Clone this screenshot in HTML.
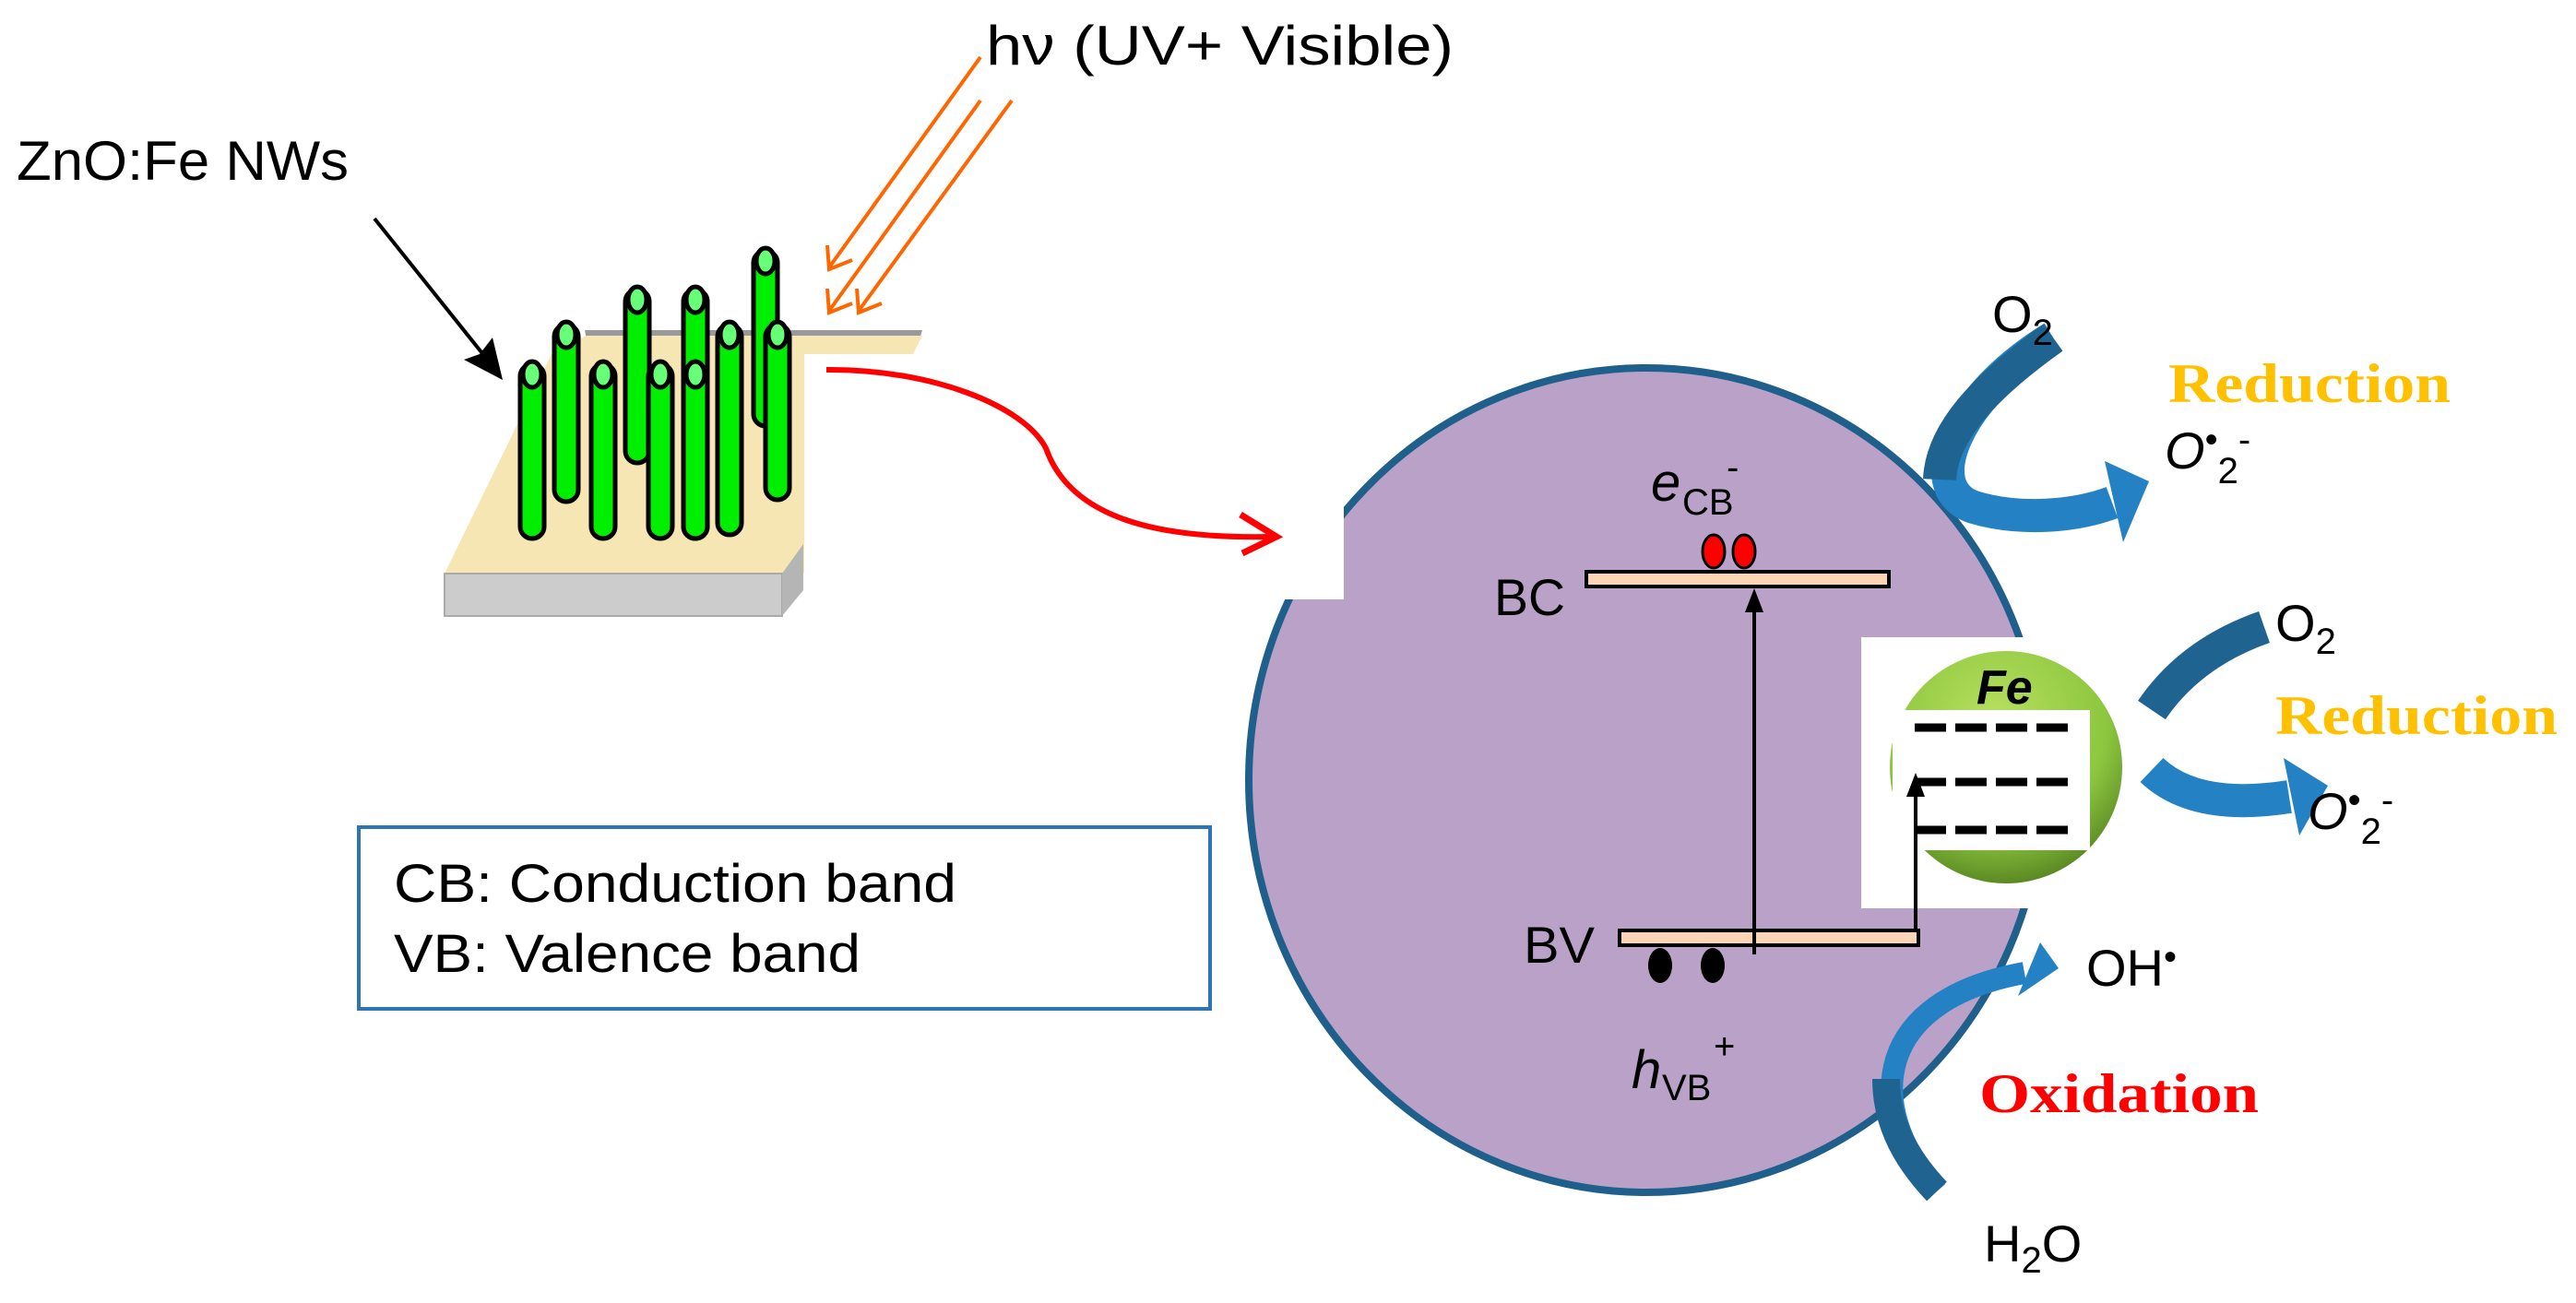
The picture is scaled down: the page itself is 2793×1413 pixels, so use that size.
<!DOCTYPE html>
<html><head><meta charset="utf-8"><style>
html,body{margin:0;padding:0;background:#fff;}
svg{display:block;}
text{font-family:"Liberation Sans","DejaVu Sans",sans-serif;}
.serif{font-family:"Liberation Serif",serif;}
</style></head><body>
<svg width="2793" height="1413" viewBox="0 0 2793 1413" xmlns="http://www.w3.org/2000/svg">
<text x="1069" y="70" font-size="60" fill="#000" textLength="507" lengthAdjust="spacingAndGlyphs">hν (UV+ Visible)</text>
<text x="18" y="195" font-size="60" fill="#000" textLength="360" lengthAdjust="spacingAndGlyphs">ZnO:Fe NWs</text>
<line x1="406" y1="237" x2="538" y2="402" stroke="#000" stroke-width="4"/>
<polygon points="545,412 503,390 520,384 534,366" fill="#000"/>
<g stroke="#ff6600" stroke-width="4" fill="none">
<line x1="1063" y1="62" x2="899" y2="290"/>
<polyline points="897,266 899,292 924,282"/>
<line x1="1063" y1="109" x2="899" y2="337"/>
<polyline points="897,313 899,339 924,329"/>
<line x1="1097" y1="109" x2="931" y2="337"/>
<polyline points="929,313 931,339 956,329"/>
</g>
<polygon points="634,358 1000,358 997,368 636,368" fill="#999"/>
<polygon points="482,622 600,380 636,364 1000,364 871,622" fill="#f5e6b3"/>
<rect x="872" y="384" width="140" height="240" fill="#fff"/>
<polygon points="482,622 848,622 848,668 482,668" fill="#cccccc" stroke="#aaa" stroke-width="2"/>
<polygon points="848,622 871,590 871,640 848,668" fill="#b5b5b5"/>
<g stroke="#000" stroke-width="5" fill="#00ee00">
<g><rect x="817" y="272" width="26" height="190" rx="13"/><ellipse cx="830" cy="283" rx="10" ry="14" fill="#66ff77"/></g>
<g><rect x="678" y="314" width="26" height="188" rx="13"/><ellipse cx="691" cy="325" rx="10" ry="14" fill="#66ff77"/></g>
<g><rect x="741" y="314" width="26" height="270" rx="13"/><ellipse cx="754" cy="325" rx="10" ry="14" fill="#66ff77"/></g>
<g><rect x="601" y="352" width="26" height="192" rx="13"/><ellipse cx="614" cy="363" rx="10" ry="14" fill="#66ff77"/></g>
<g><rect x="778" y="352" width="26" height="228" rx="13"/><ellipse cx="791" cy="363" rx="10" ry="14" fill="#66ff77"/></g>
<g><rect x="830" y="352" width="26" height="190" rx="13"/><ellipse cx="843" cy="363" rx="10" ry="14" fill="#66ff77"/></g>
<g><rect x="564" y="395" width="26" height="189" rx="13"/><ellipse cx="577" cy="406" rx="10" ry="14" fill="#66ff77"/></g>
<g><rect x="641" y="395" width="26" height="189" rx="13"/><ellipse cx="654" cy="406" rx="10" ry="14" fill="#66ff77"/></g>
<g><rect x="703" y="395" width="26" height="189" rx="13"/><ellipse cx="716" cy="406" rx="10" ry="14" fill="#66ff77"/></g>
<g><rect x="741" y="395" width="26" height="189" rx="13"/><ellipse cx="754" cy="406" rx="10" ry="14" fill="#66ff77"/></g>
</g>
<rect x="389" y="897" width="923" height="197" fill="#fff" stroke="#2e75b6" stroke-width="4"/>
<text x="427" y="978" font-size="58" fill="#000" textLength="610" lengthAdjust="spacingAndGlyphs">CB: Conduction band</text>
<text x="427" y="1054" font-size="58" fill="#000" textLength="506" lengthAdjust="spacingAndGlyphs">VB: Valence band</text>
<ellipse cx="1785" cy="846" rx="431" ry="447" fill="#b9a1c8" stroke="#1f5f8b" stroke-width="8"/>
<rect x="1353" y="516" width="104" height="134" fill="#fff"/>
<path d="M896,401 C1010,400 1110,440 1134,486 C1160,560 1250,585 1380,582" stroke="#ff0000" stroke-width="6" fill="none"/>
<polyline points="1345,558 1384,582 1347,600" stroke="#ff0000" stroke-width="7" fill="none"/>
<rect x="2018" y="691" width="196" height="294" fill="#fff"/>
<defs><radialGradient id="g" cx="0.45" cy="0.3" r="0.7"><stop offset="0" stop-color="#b8e060"/><stop offset="0.7" stop-color="#8cc63f"/><stop offset="1" stop-color="#5c8a24"/></radialGradient></defs>
<circle cx="2175" cy="832" r="126" fill="url(#g)"/>
<rect x="2052" y="770" width="214" height="152" fill="#fff"/>
<g stroke="#000" stroke-width="9" stroke-dasharray="34,10">
<line x1="2076" y1="789" x2="2250" y2="789"/>
<line x1="2076" y1="848" x2="2250" y2="848"/>
<line x1="2076" y1="900" x2="2250" y2="900"/>
</g>
<text x="2143" y="763" font-size="52" font-weight="bold" font-style="italic" fill="#000">Fe</text>
<rect x="1720" y="620" width="328" height="16" fill="#fbd5b5" stroke="#000" stroke-width="4"/>
<rect x="1756" y="1009" width="324" height="16" fill="#fbd5b5" stroke="#000" stroke-width="4"/>
<line x1="1902" y1="1035" x2="1902" y2="650" stroke="#000" stroke-width="4"/>
<polygon points="1902,638 1892,664 1912,664" fill="#000"/>
<line x1="2077" y1="1010" x2="2077" y2="850" stroke="#000" stroke-width="4"/>
<polygon points="2077,838 2067,864 2087,864" fill="#000"/>
<ellipse cx="1858" cy="598" rx="12" ry="18" fill="#ff0000" stroke="#000" stroke-width="3"/>
<ellipse cx="1891" cy="598" rx="12" ry="18" fill="#ff0000" stroke="#000" stroke-width="3"/>
<ellipse cx="1800" cy="1047" rx="13" ry="19" fill="#000"/>
<ellipse cx="1857" cy="1047" rx="13" ry="19" fill="#000"/>
<text x="1620" y="667" font-size="56" textLength="77" lengthAdjust="spacingAndGlyphs">BC</text>
<text x="1652" y="1044" font-size="56" textLength="77" lengthAdjust="spacingAndGlyphs">BV</text>
<text x="1790" y="543" font-size="58" font-style="italic">e</text>
<text x="1824" y="558" font-size="40">CB</text>
<text x="1872" y="520" font-size="40">-</text>
<text x="1769" y="1180" font-size="58" font-style="italic">h</text>
<text x="1802" y="1193" font-size="40">VB</text>
<text x="1858" y="1148" font-size="40">+</text>
<path d="M2226,366 C2120,430 2080,530 2140,550 C2190,565 2250,560 2290,545" stroke="#2381c4" stroke-width="36" fill="none"/>
<path d="M2226,366 C2150,420 2105,470 2103,520" stroke="#1f6391" stroke-width="36" fill="none"/>
<polygon points="2282,500 2330,522 2302,588" fill="#2381c4"/>
<path d="M2455,680 Q2375,708 2333,770" stroke="#1f6391" stroke-width="36" fill="none"/>
<path d="M2333,835 Q2380,880 2482,864" stroke="#2381c4" stroke-width="36" fill="none"/>
<polygon points="2476,822 2524,852 2493,906" fill="#2381c4"/>
<path d="M2100,1292 C2020,1200 2030,1085 2195,1055" stroke="#2381c4" stroke-width="24" fill="none"/>
<path d="M2100,1292 C2060,1250 2045,1210 2045,1170" stroke="#1f6391" stroke-width="30" fill="none"/>
<polygon points="2212,1022 2232,1050 2188,1080" fill="#2381c4"/>
<text x="2160" y="360" font-size="56">O<tspan font-size="40" dy="14">2</tspan></text>
<text x="2351" y="436" font-size="60" font-weight="bold" fill="#ffc000" class="serif" textLength="306" lengthAdjust="spacingAndGlyphs">Reduction</text>
<text x="2347" y="508" font-size="56"><tspan font-style="italic">O</tspan><tspan font-size="40" dy="-18">•</tspan><tspan font-size="40" dy="34">2</tspan><tspan font-size="40" dy="-34">-</tspan></text>
<text x="2467" y="695" font-size="56">O<tspan font-size="40" dy="14">2</tspan></text>
<text x="2467" y="796" font-size="60" font-weight="bold" fill="#ffc000" class="serif" textLength="306" lengthAdjust="spacingAndGlyphs">Reduction</text>
<text x="2502" y="899" font-size="56"><tspan font-style="italic">O</tspan><tspan font-size="40" dy="-18">•</tspan><tspan font-size="40" dy="34">2</tspan><tspan font-size="40" dy="-34">-</tspan></text>
<text x="2262" y="1069" font-size="56">OH<tspan font-size="40" dy="-18">•</tspan></text>
<text x="2146" y="1206" font-size="60" font-weight="bold" fill="#ff0000" class="serif" textLength="303" lengthAdjust="spacingAndGlyphs">Oxidation</text>
<text x="2151" y="1368" font-size="56">H<tspan font-size="40" dy="12">2</tspan><tspan dy="-12">O</tspan></text>
</svg>
</body></html>
